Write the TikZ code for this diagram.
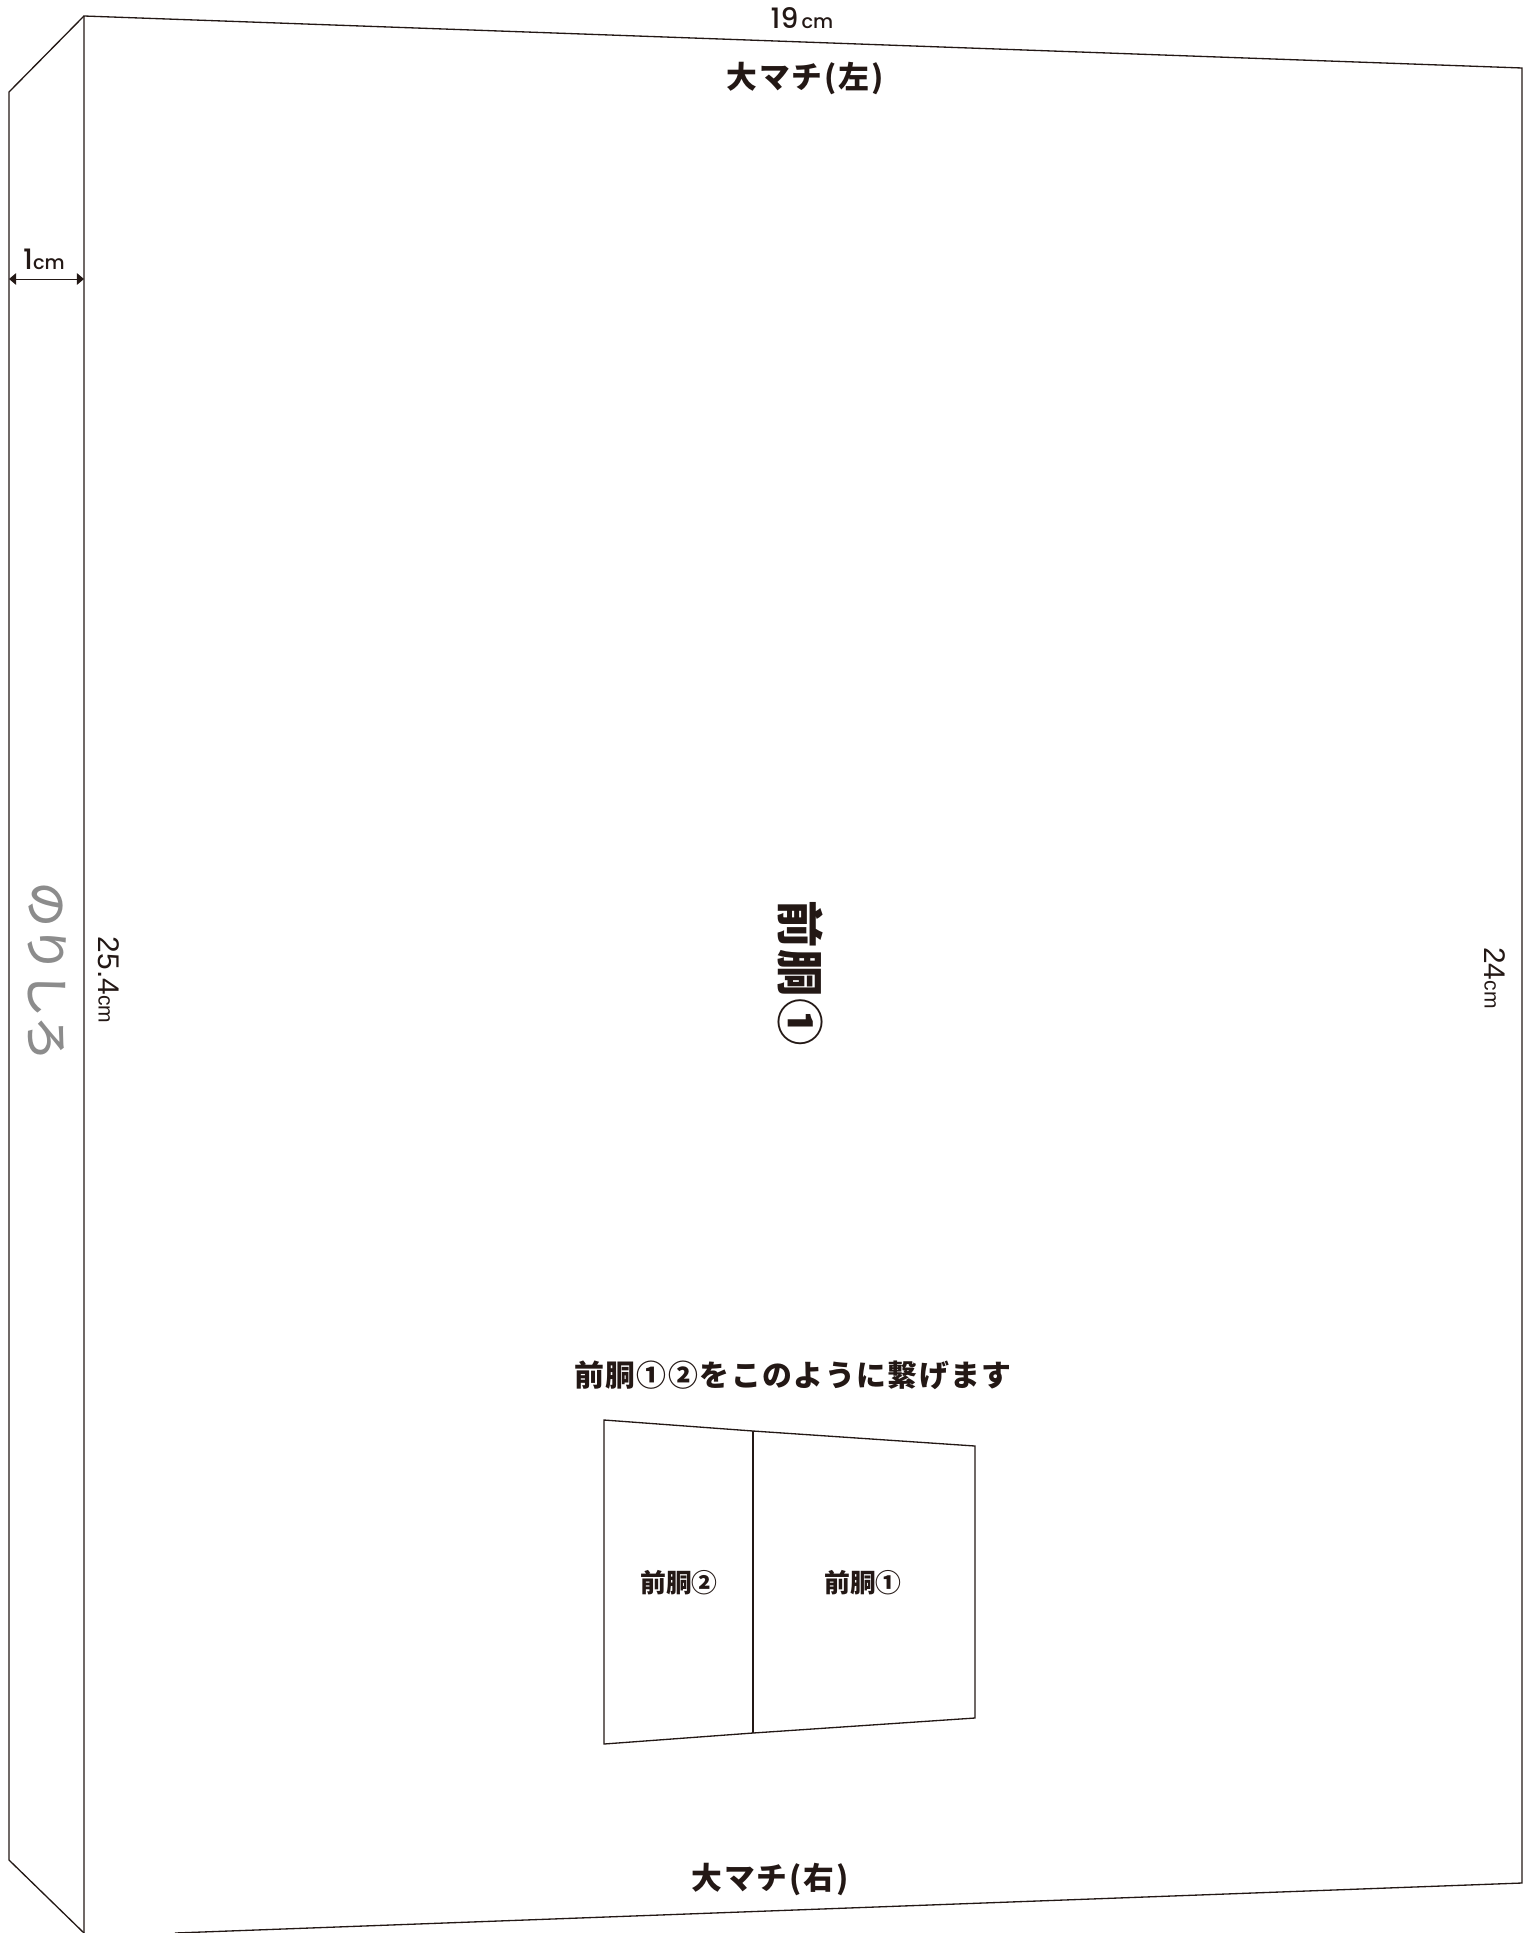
\documentclass[tikz,border=0pt]{standalone}
\usepackage{fontspec}
\usetikzlibrary{arrows.meta, positioning, calc}
\newfontfamily\jpblack{Noto Sans CJK JP Black}
\newfontfamily\jpfont{Noto Sans CJK JP Medium}
\newfontfamily\sizefont{Poppins Medium}
\newfontfamily\sidefont{Liberation Sans}
\definecolor{inkblack}{RGB}{35, 24, 21}
\definecolor{tabgray}{RGB}{140, 140, 140}

\begin{document}
\begin{tikzpicture}[
    x=0.02cm, y=-0.02cm,
    outline/.style={draw=inkblack, line width=0.75pt},
    dimarrow/.style={{Triangle[length=4pt, width=6.5pt]}-{Triangle[length=4pt, width=6.5pt]}, draw=inkblack, line width=0.5pt},
    partname/.style={inner sep=0pt, text=inkblack, font=\jpblack\fontsize{17.5}{18}\selectfont\addfontfeature{LetterSpace=6}},
    smallname/.style={inner sep=0pt, text=inkblack, font=\jpblack\fontsize{14.7}{15}\selectfont},
    sizelabel/.style={inner sep=0pt, text=inkblack, font=\sizefont\fontsize{16}{16}\selectfont},
    sidelabel/.style={inner sep=0pt, text=inkblack, rotate=-90, font=\sidefont\fontsize{17}{17}\selectfont}
]
\useasboundingbox (0,0) rectangle (1523,1933);

% Sheet corners
\coordinate (tl) at (84,16);
\coordinate (tr) at (1522,68);
\coordinate (br) at (1522,1883);
\coordinate (bm) at (175,1933);
\coordinate (bl) at (84,1933);
\coordinate (fl) at (9,92);
\coordinate (fb) at (9,1860);

% Outline
\draw[outline] (bl) -- (tl) -- (tr) -- (br) -- (bm);
\draw[outline] (tl) -- (fl) -- (fb) -- (bl);

% Glue tab width
\coordinate (wl) at (9,279);
\coordinate (wr) at (84,279);
\draw[dimarrow] (wl) -- (wr);
\node[sizelabel] (widthlabel) at (44,259) {1{\fontsize{11}{11}\selectfont cm}};

% Sizes
\node[sizelabel] (toplabel) at (802,18) {19{\fontsize{11}{11}\selectfont\,cm}};
\node[sidelabel] (leftlabel) at (109,980) {25.4{\fontsize{12}{12}\selectfont cm}};
\node[sidelabel] (rightlabel) at (1495,978) {24{\fontsize{12}{12}\selectfont cm}};

% Side names
\node[partname] (sidel) at (805,79) {大マチ(左)};
\node[partname] (sider) at (770,1879) {大マチ(右)};
\node[inner sep=0pt, rotate=-90, text=tabgray, font=\jpfont\fontsize{25.5}{26}\selectfont] (tab) at (47,972) {のりしろ};

% Main name
\node[inner sep=0pt, rotate=-90, text=inkblack, font=\jpblack\fontsize{27}{27}\selectfont\addfontfeature{LetterSpace=3}] (mainname) at (801,973) {前胴①};

% Joining sketch
\node[inner sep=0pt, text=inkblack, font=\jpblack\fontsize{17}{17}\selectfont\addfontfeature{LetterSpace=5}] (jointext) at (793,1375) {前胴①②をこのように繋げます};
\coordinate (q1) at (604,1420);
\coordinate (q2) at (753,1431);
\coordinate (q3) at (975,1446);
\coordinate (q4) at (975,1718);
\coordinate (q5) at (753,1733);
\coordinate (q6) at (604,1744);
\draw[outline] (q1) -- (q2) -- (q3) -- (q4) -- (q5) -- (q6) -- cycle;
\draw[outline] (q2) -- (q5);
\node[smallname] (part2) at (679,1583) {前胴②};
\node[smallname] (part1) at (863,1583) {前胴①};

\end{tikzpicture}
\end{document}
